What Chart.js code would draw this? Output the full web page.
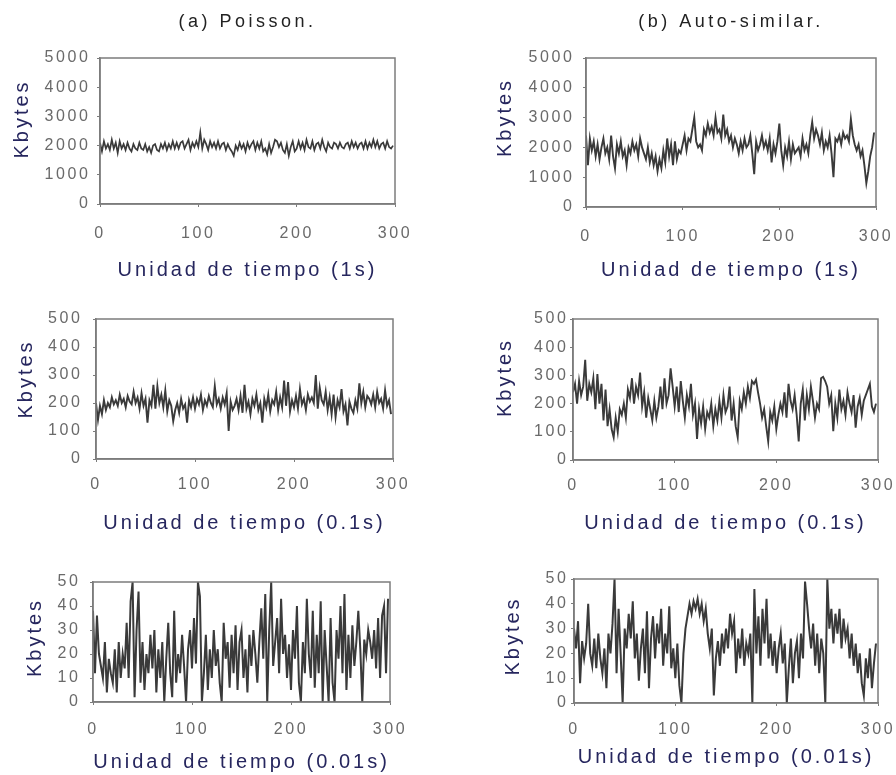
<!DOCTYPE html>
<html><head><meta charset="utf-8">
<script src="https://cdn.jsdelivr.net/npm/chart.js@4"></script>
<style>
html,body{margin:0;padding:0;background:#fff;overflow:hidden;width:896px;height:775px}
.p{position:absolute}
</style></head><body>
<div class="p" style="left:0;top:0;width:448px;height:282px"><canvas id="k1"></canvas></div>
<div class="p" style="left:448px;top:0;width:448px;height:282px"><canvas id="k2"></canvas></div>
<div class="p" style="left:0;top:282px;width:448px;height:254px"><canvas id="k3"></canvas></div>
<div class="p" style="left:448px;top:282px;width:448px;height:254px"><canvas id="k4"></canvas></div>
<div class="p" style="left:0;top:536px;width:448px;height:239px"><canvas id="k5"></canvas></div>
<div class="p" style="left:448px;top:536px;width:448px;height:239px"><canvas id="k6"></canvas></div>
<script>
// ---------- text ----------
const panelTitles = ['(a) Poisson.', '(b) Auto-similar.'];
const yAxisTitle = 'Kbytes';
const xAxisTitles = ['Unidad de tiempo (1s)', 'Unidad de tiempo (0.1s)', 'Unidad de tiempo (0.01s)'];

// ---------- tick labels ----------
const xTicks = [0, 100, 200, 300];
const yTicks1s = [0, 1000, 2000, 3000, 4000, 5000];
const yTicks01s = [0, 100, 200, 300, 400, 500];
const yTicks001s = [0, 10, 20, 30, 40, 50];

// time unit index step between samples
const timeStep = 2;

// ---------- series (Kbytes per time unit) ----------
const poisson1s = [
2100,1800,2150,1900,2050,1850,2200,1900,2100,1750,
2150,1900,2050,1850,2100,1900,1800,2050,1900,1850,
2100,1900,1850,2050,1800,1950,1750,2000,2050,1850,
1800,2050,1900,2100,1850,2050,1900,2150,1900,2100,
1900,2100,2150,1900,2050,2200,1850,2100,1950,2150,
1950,2450,1900,2200,2050,1850,2150,1950,2100,1900,
2150,1900,2050,2100,1850,2050,1900,1800,1650,2000,
1850,2100,1900,2050,1800,2100,1900,2050,2150,1850,
2100,1900,2150,1800,1900,1700,2050,1750,1950,2200,
2150,1950,2100,1850,1750,2050,1650,1950,2150,1800,
1900,2150,1900,2100,1850,2200,1950,1900,2150,1850,
2050,2100,1900,2200,1950,1800,2100,1950,1900,2100,
2050,1900,2100,1950,1900,2050,2100,1900,2150,1950,
2100,1900,2050,2100,1900,2150,1900,2100,1950,2200,
1950,2150,1900,2050,2100,1900,2150,1950,1900,2000];

const selfSimilar1s = [
2400,1400,2300,1900,2200,1700,2100,1600,2000,2300,
1800,2000,1600,2400,1700,1300,2100,1800,2200,1700,
1900,1400,2000,1800,2200,1900,2100,1700,2300,2000,
1800,1600,2000,1500,1800,1400,1700,1200,1600,1300,
1900,1500,2300,1700,2100,1400,2200,1600,1900,1800,
2100,2400,1900,2300,2200,2600,3000,2200,2000,2100,
1900,2600,2400,2800,2500,2700,2400,3000,2500,2600,
2300,3100,2400,2600,2200,2400,2000,2300,2100,1800,
2200,1900,2300,2000,2100,2400,1800,1100,2200,1900,
2100,2400,2000,2200,1900,2300,1500,2100,1800,2200,
2800,1900,1400,2000,1700,2200,1600,2100,1800,1900,
2000,1700,2300,1900,2100,1800,2400,2850,2300,2600,
2400,2100,2500,1900,2200,2000,2400,1800,1000,2300,
2200,2400,2100,2500,2300,2400,2200,2950,2400,2100,
1900,2100,1700,1900,1400,800,1200,1700,2000,2500];

const poisson01s = [
200,140,190,160,210,175,200,185,220,195,
210,190,230,200,215,185,225,205,195,240,
200,220,180,235,190,215,130,210,190,265,
180,260,200,230,185,245,170,210,190,135,
175,200,165,215,180,195,130,210,185,220,
180,215,195,230,175,210,190,225,200,185,
260,195,215,180,220,195,235,100,205,175,
190,215,175,225,165,265,180,205,160,215,
190,230,175,200,130,215,185,230,170,210,
195,240,175,220,185,280,190,275,170,210,
185,225,180,250,195,215,175,230,205,220,
200,300,180,255,210,195,240,175,220,160,
230,150,210,185,250,170,195,120,205,180,
165,210,180,270,200,240,185,225,215,195,
230,185,240,200,215,180,245,190,210,160];

const selfSimilar01s = [
240,270,200,280,230,260,355,210,270,240,
290,180,305,200,270,140,250,120,180,110,
80,150,100,180,160,200,150,250,220,290,
200,260,230,310,190,240,150,220,180,140,
210,150,190,260,180,290,200,230,325,260,
190,260,170,280,210,150,230,190,270,160,
200,75,180,130,190,110,170,150,200,120,
180,140,210,150,230,170,190,260,140,200,
120,80,210,180,240,200,260,220,280,270,
285,240,200,150,180,120,66,170,140,190,
110,160,200,170,240,150,270,210,180,230,
160,66,200,250,140,230,180,260,210,150,
200,180,290,295,280,260,200,230,102,200,
150,250,180,210,160,240,200,170,230,115,
190,220,160,210,230,250,270,190,170,200];

const poisson001s = [
38,12,36,20,15,10,25,4,18,12,
8,22,4,25,10,20,14,33,10,42,
50,2,30,46,8,25,5,20,12,28,
14,30,4,22,10,25,0,18,33,12,
2,38,8,20,12,28,15,0,22,30,
14,35,16,50,44,0,12,28,5,22,
10,30,15,22,8,0,33,18,25,6,
28,12,32,5,25,30,10,22,4,28,
15,30,20,8,25,39,18,45,0,30,
50,15,25,35,12,43,20,28,10,24,
5,30,18,40,8,0,25,12,43,20,
10,38,6,28,12,42,0,30,15,0,
35,8,0,30,18,40,12,45,5,28,
10,32,15,25,38,22,0,26,20,30,
25,18,30,14,35,10,36,40,12,43];

const selfSimilar001s = [
30,22,33,8,25,18,24,40,20,15,
26,14,28,18,12,22,6,28,20,32,
50,12,38,20,0,30,22,36,26,41,
18,28,9,22,30,12,37,6,26,35,
18,32,24,38,15,28,20,39,14,22,
10,24,7,0,20,30,35,40,36,41,
38,42,36,40,33,38,28,22,30,3,
18,25,15,28,20,30,22,36,28,33,
12,26,18,30,15,24,20,28,0,46,
20,35,15,38,24,42,18,28,15,25,
12,22,28,16,24,0,14,26,8,20,
25,10,28,18,49,40,30,22,32,15,
28,12,26,20,0,50,30,38,24,36,
28,38,22,34,26,30,18,28,15,24,
12,20,8,3,18,10,22,6,16,24];

// ---------- layout / style (not data) ----------
const FONT = '"Liberation Sans", Arial, sans-serif';
const TITLE_COLOR = '#26265e';
const TICK_COLOR = '#6a6a6a';
const FRAME_COLOR = '#7c7c7c';
const LINE_COLOR = '#3a3a3a';

const panels = [
  {id:'k1', series: poisson1s, yTicks: yTicks1s, xTitle: xAxisTitles[0], title: panelTitles[0], lw:1.7,
   yW:100, xH:78, padTop:0, padR:53, yTitlePad:10, yTickPad:6.4, xTickPad:16.9, xTitlePB:0, yShift:12},
  {id:'k2', series: selfSimilar1s, yTicks: yTicks1s, xTitle: xAxisTitles[0], title: panelTitles[1], lw:1.9,
   yW:138, xH:75, padTop:0, padR:20, yTitlePad:45, yTickPad:8.4, xTickPad:17.4, xTitlePB:0, yShift:15},
  {id:'k3', series: poisson01s, yTicks: yTicks01s, xTitle: xAxisTitles[1], title: null, lw:1.9,
   yW:96, xH:77, padTop:37, padR:55, yTitlePad:14, yTickPad:10.4, xTickPad:13.4, xTitlePB:1, yShift:10},
  {id:'k4', series: selfSimilar01s, yTicks: yTicks01s, xTitle: xAxisTitles[1], title: null, lw:1.9,
   yW:125, xH:76, padTop:37, padR:18, yTitlePad:45, yTickPad:1.4, xTickPad:13.4, xTitlePB:1, yShift:12},
  {id:'k5', series: poisson001s, yTicks: yTicks001s, xTitle: xAxisTitles[2], title: null, lw:2,
   yW:93, xH:73, padTop:46, padR:58, yTitlePad:23, yTickPad:9.4, xTickPad:14.9, xTitlePB:1, yShift:4.5},
  {id:'k6', series: selfSimilar001s, yTicks: yTicks001s, xTitle: xAxisTitles[2], title: null, lw:2,
   yW:126, xH:72, padTop:43, padR:18, yTitlePad:53, yTickPad:2.4, xTickPad:14.4, xTitlePB:6, yShift:5}
];

const framePlugin = {
  id: 'frame',
  afterDatasetsDraw(chart) {
    const {ctx, chartArea: a} = chart;
    ctx.save();
    ctx.strokeStyle = FRAME_COLOR;
    ctx.lineWidth = 1.5;
    ctx.strokeRect(a.left, a.top, a.right - a.left, a.bottom - a.top);
    ctx.restore();
  }
};

function makeTextPlugin(yShift) {
  return {
    id: 'textStyle',
    beforeInit(chart) {
      const ctx = chart.ctx;
      const orig = ctx.fillText;
      ctx.fillText = function (t, x, y, mw) {
        const m = /(\d+(?:\.\d+)?)px/.exec(this.font);
        const size = m ? parseFloat(m[1]) : 12;
        this.letterSpacing = (size >= 19 ? 3 : size >= 17 ? 3.5 : 2.6) + 'px';
        if (t === yAxisTitle) x += yShift;
        if (mw === undefined) orig.call(this, t, x, y); else orig.call(this, t, x, y, mw);
      };
    }
  };
}

panels.forEach(p => {
  const pts = p.series.map((v, i) => ({x: i * timeStep, y: v}));
  const yMax = p.yTicks[p.yTicks.length - 1];
  const titleFont = 18;
  const plugins = {
    legend: {display: false},
    tooltip: {enabled: false},
    title: p.title ? {
      display: true, text: p.title, fullSize: false, color: '#222222',
      font: {family: FONT, size: titleFont, weight: 'normal'},
      padding: {top: 11, bottom: 58 - 11 - titleFont * 1.2}
    } : {display: false}
  };
  new Chart(document.getElementById(p.id), {
    type: 'line',
    data: {datasets: [{data: pts, borderColor: LINE_COLOR, borderWidth: p.lw, pointRadius: 0, tension: 0, fill: false}]},
    options: {
      responsive: true, maintainAspectRatio: false, animation: false,
      events: [],
      layout: {padding: {left: 0, right: p.padR, top: p.padTop, bottom: 0}},
      plugins,
      scales: {
        x: {
          type: 'linear', min: xTicks[0], max: xTicks[xTicks.length - 1],
          afterBuildTicks: s => { s.ticks = xTicks.map(v => ({value: v})); },
          afterFit: s => { s.height = p.xH; s.paddingLeft = 0; s.paddingRight = 0; },
          ticks: {color: TICK_COLOR, font: {family: FONT, size: 16}, padding: p.xTickPad, autoSkip: false, maxRotation: 0,
                  callback: v => String(v)},
          grid: {drawOnChartArea: false, drawTicks: true, tickLength: 3, color: FRAME_COLOR},
          border: {display: true, color: FRAME_COLOR, width: 1.5},
          title: {display: true, text: p.xTitle, color: TITLE_COLOR, font: {family: FONT, size: 20}, padding: {top: 0, bottom: p.xTitlePB}}
        },
        y: {
          type: 'linear', min: 0, max: yMax,
          afterBuildTicks: s => { s.ticks = p.yTicks.map(v => ({value: v})); },
          afterFit: s => { s.width = p.yW; s.paddingTop = 0; s.paddingBottom = 0; },
          ticks: {color: TICK_COLOR, font: {family: FONT, size: 16}, padding: p.yTickPad, callback: v => String(v)},
          grid: {drawOnChartArea: false, drawTicks: true, tickLength: 3, color: FRAME_COLOR},
          border: {display: true, color: FRAME_COLOR, width: 1.5},
          title: {display: true, text: yAxisTitle, color: TITLE_COLOR, font: {family: FONT, size: 20}, padding: {top: p.yTitlePad, bottom: 0}}
        }
      }
    },
    plugins: [framePlugin, makeTextPlugin(p.yShift)]
  });
});
</script>
</body></html>
